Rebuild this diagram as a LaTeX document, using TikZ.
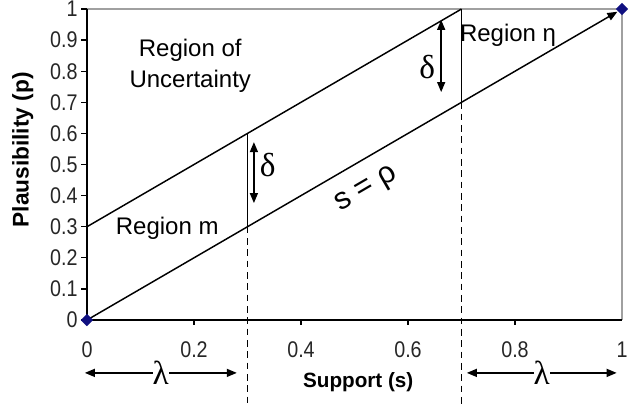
\documentclass[tikz,border=0pt]{standalone}
\usepackage{fontspec}
\setmainfont{Liberation Sans}
\newfontfamily\tickfont[FakeStretch=0.87]{Liberation Sans}
\newfontfamily\greekfont{Liberation Serif}
\usetikzlibrary{arrows.meta, positioning, shapes.geometric}
\definecolor{plotgrey}{HTML}{A0A0A0}
\definecolor{plotnavy}{HTML}{101080}
\tikzset{
  >={Triangle[length=7.5pt, width=6pt]},
  frame/.style={draw=plotgrey, line width=1.5pt},
  axisline/.style={draw=black, line width=1.8pt},
  band/.style={draw=black, line width=1.1pt},
  cutline/.style={draw=black, line width=0.9pt},
  dashline/.style={draw=black, line width=0.7pt, dash pattern=on 5pt off 3.5pt},
  tickmark/.style={draw=black, line width=1pt},
  ylab/.style={anchor=east, inner sep=0pt, text=black!85, font=\tickfont\fontsize{17}{17}\selectfont},
  xlab/.style={inner sep=0pt, text=black!85, font=\tickfont\fontsize{17}{17}\selectfont},
  axtitle/.style={inner sep=0pt, font=\bfseries\fontsize{15.5}{16}\selectfont},
  region/.style={inner sep=0pt, align=center, font=\fontsize{18}{23}\selectfont},
  greek/.style={inner sep=0pt, fill=white, font=\greekfont\fontsize{25}{25}\selectfont},
  span/.style={<->, draw=black, line width=1.1pt},
  marker/.style={diamond, fill=plotnavy, inner sep=0pt, minimum size=9.5pt},
}
\begin{document}
\begin{tikzpicture}[x=401.25pt, y=233.25pt]
  \useasboundingbox (-0.1626,-0.2701) rectangle (1.0168,1.029);
  % corner points
  \coordinate (o) at (0,0);
  \coordinate (tr) at (1,1);
  \coordinate (ul) at (0,0.3);
  \coordinate (ue) at (0.7,1);
  \coordinate (mb) at (0.3,0.3);
  \coordinate (mt) at (0.3,0.6);
  \coordinate (nb) at (0.7,0.7);
  \coordinate (mf) at (0.3,-0.2701);
  \coordinate (nf) at (0.7,-0.2701);
  % frame and axes
  \draw[frame] (0,1) -- (1,1) -- (1,0);
  \draw[dashline] (mb) -- (mf);
  \draw[dashline] (nb) -- (nf);
  \draw[axisline] (0,1) -- (o) -- (1,0);
  \foreach \v/\t in {0/0, 1/0.1, 2/0.2, 3/0.3, 4/0.4, 5/0.5, 6/0.6, 7/0.7, 8/0.8, 9/0.9, 10/1}
    \draw[tickmark] (0,\v/10) -- ++(-4.5pt,0) node[ylab, xshift=-2pt] (y\v) {\t};
  \foreach \v/\t in {0/0, 2/0.2, 4/0.4, 6/0.6, 8/0.8, 10/1}
    \node[xlab] (x\v) at (\v/10,-0.0965) {\t};
  \foreach \v in {2,4,6,8}
    \draw[tickmark] (\v/10,0) -- ++(0,-4pt);
  % band of uncertainty
  \draw[band] (ul) -- (ue);
  \draw[band, ->, shorten >=4pt] (o) -- (tr);
  \draw[cutline] (mb) -- (mt);
  \draw[cutline] (nb) -- (ue);
  \node[marker] (m0) at (o) {};
  \node[marker] (m1) at (tr) {};
  % labels
  \node[region] (unc) at (0.193,0.817) {Region of\\Uncertainty};
  \node[region] (rm) at (0.15,0.296) {Region m};
  \node[region] (rn) at (0.787,0.916) {Region η};
  \node[region, font=\fontsize{23}{23}\selectfont, rotate=30.2] (sp) at (0.523,0.418) {s = ρ};
  \coordinate (d1t) at (0.312,0.572);
  \coordinate (d1b) at (0.312,0.376);
  \coordinate (d2t) at (0.662,0.965);
  \coordinate (d2b) at (0.662,0.733);
  \draw[span] (d1t) -- (d1b);
  \draw[span] (d2t) -- (d2b);
  \node[greek, fill=none] (dm) at (0.338,0.498) {δ};
  \node[greek, fill=none] (dn) at (0.636,0.813) {δ};
  % lambda spans
  \coordinate (l1a) at (-0.004,-0.170);
  \coordinate (l1b) at (0.28,-0.170);
  \coordinate (l2a) at (0.71,-0.170);
  \coordinate (l2b) at (0.99,-0.170);
  \draw[span] (l1a) -- node[greek] (lm) {λ} (l1b);
  \draw[span] (l2a) -- node[greek] (ln) {λ} (l2b);
  \node[axtitle] (xt) at (0.507,-0.199) {Support (s)};
  \node[axtitle, font=\bfseries\fontsize{17}{17}\selectfont, rotate=90] (yt) at (-0.12,0.547) {Plausibility (p)};
\end{tikzpicture}
\end{document}
